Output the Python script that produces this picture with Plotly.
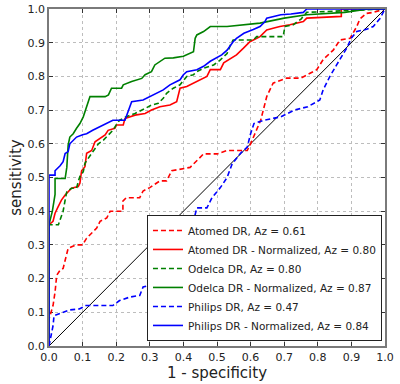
import plotly.graph_objects as go

# ---- data ----
atomed_x = [0, 0, 0.012, 0.018, 0.023, 0.033, 0.042, 0.053, 0.057, 0.08, 0.10, 0.112, 0.122, 0.142,
            0.152, 0.172, 0.182, 0.22, 0.22, 0.23, 0.27, 0.28, 0.30, 0.33, 0.35, 0.365, 0.42, 0.46,
            0.50, 0.53, 0.59, 0.60, 0.63, 0.648, 0.667, 0.707, 0.75, 0.797, 0.816, 0.846, 0.866,
            0.896, 0.916, 0.925, 0.945, 0.965, 1.0]
atomed_y = [0, 0.08, 0.12, 0.16, 0.21, 0.225, 0.23, 0.28, 0.29, 0.30, 0.30, 0.32, 0.33, 0.35,
            0.37, 0.38, 0.40, 0.40, 0.43, 0.44, 0.44, 0.46, 0.47, 0.49, 0.49, 0.52, 0.53, 0.57,
            0.57, 0.58, 0.58, 0.60, 0.67, 0.74, 0.78, 0.795, 0.795, 0.82, 0.85, 0.878, 0.908,
            0.913, 0.948, 0.97, 0.987, 0.99, 1.0]

atomed_n_x = [0, 0, 0.012, 0.018, 0.027, 0.037, 0.048, 0.067, 0.087, 0.092, 0.097, 0.107, 0.112,
              0.127, 0.137, 0.152, 0.167, 0.176, 0.196, 0.201, 0.221, 0.226, 0.256, 0.286, 0.305,
              0.33, 0.36, 0.38, 0.39, 0.41, 0.43, 0.47, 0.48, 0.51, 0.52, 0.54, 0.558, 0.578,
              0.588, 0.598, 0.628, 0.648, 0.667, 0.687, 0.717, 0.757, 0.767, 0.87, 0.87, 1.0]
atomed_n_y = [0, 0.36, 0.37, 0.394, 0.413, 0.433, 0.448, 0.468, 0.473, 0.483, 0.52, 0.532, 0.572,
              0.58, 0.606, 0.616, 0.626, 0.64, 0.646, 0.656, 0.656, 0.675, 0.685, 0.69, 0.70,
              0.71, 0.715, 0.725, 0.765, 0.77, 0.78, 0.80, 0.82, 0.82, 0.84, 0.854, 0.864, 0.883,
              0.893, 0.903, 0.918, 0.938, 0.943, 0.948, 0.953, 0.963, 0.973, 0.978, 1.0, 1.0]

odelca_x = [0, 0, 0.028, 0.037, 0.042, 0.048, 0.053, 0.067, 0.082, 0.087, 0.092, 0.102, 0.107,
            0.112, 0.127, 0.137, 0.147, 0.162, 0.172, 0.182, 0.19, 0.20, 0.21, 0.23, 0.256, 0.286,
            0.305, 0.325, 0.34, 0.35, 0.37, 0.39, 0.41, 0.43, 0.44, 0.46, 0.49, 0.51, 0.53, 0.54,
            0.548, 0.608, 0.618, 0.697, 0.702, 0.727, 0.75, 0.767, 1.0]
odelca_y = [0, 0.36, 0.36, 0.384, 0.40, 0.433, 0.458, 0.468, 0.468, 0.488, 0.503, 0.517, 0.542,
            0.55, 0.572, 0.586, 0.60, 0.611, 0.621, 0.631, 0.64, 0.656, 0.67, 0.68, 0.69, 0.705,
            0.715, 0.72, 0.735, 0.75, 0.765, 0.775, 0.80, 0.805, 0.814, 0.824, 0.834, 0.849,
            0.868, 0.893, 0.908, 0.908, 0.918, 0.918, 0.948, 0.953, 0.97, 0.99, 1.0]

odelca_n_x = [0, 0, 0.01, 0.018, 0.018, 0.048, 0.053, 0.057, 0.062, 0.072, 0.082, 0.092, 0.102,
              0.112, 0.122, 0.167, 0.177, 0.186, 0.216, 0.221, 0.246, 0.276, 0.286, 0.305, 0.315,
              0.345, 0.37, 0.40, 0.43, 0.435, 0.44, 0.46, 0.48, 0.53, 0.628, 0.70, 0.767, 0.88,
              0.95, 1.0]
odelca_n_y = [0, 0.36, 0.40, 0.45, 0.497, 0.497, 0.53, 0.596, 0.62, 0.63, 0.646, 0.66, 0.68,
              0.71, 0.74, 0.74, 0.745, 0.765, 0.765, 0.775, 0.785, 0.794, 0.805, 0.814, 0.834,
              0.854, 0.855, 0.86, 0.873, 0.913, 0.923, 0.933, 0.948, 0.948, 0.958, 0.973, 0.983,
              0.99, 1.0, 1.0]

philips_x = [0, 0.012, 0.015, 0.033, 0.06, 0.09, 0.11, 0.19, 0.21, 0.24, 0.27, 0.28, 0.30, 0.33,
             0.37, 0.40, 0.415, 0.43, 0.44, 0.47, 0.485, 0.51, 0.53, 0.545, 0.57, 0.59, 0.60,
             0.61, 0.64, 0.69, 0.73, 0.77, 0.806, 0.816, 0.836, 0.856, 0.875, 0.886, 0.90, 0.916,
             0.945, 0.965, 0.985, 1.0]
philips_y = [0, 0.06, 0.09, 0.096, 0.107, 0.11, 0.12, 0.12, 0.135, 0.145, 0.15, 0.175, 0.18, 0.19,
             0.23, 0.29, 0.32, 0.37, 0.41, 0.41, 0.44, 0.47, 0.50, 0.54, 0.572, 0.59, 0.63,
             0.66, 0.67, 0.68, 0.70, 0.71, 0.73, 0.76, 0.80, 0.834, 0.864, 0.884, 0.914, 0.933,
             0.94, 0.948, 0.972, 1.0]

philips_n_x = [0, 0, 0.018, 0.018, 0.033, 0.042, 0.048, 0.057, 0.062, 0.072, 0.082, 0.10, 0.112,
               0.13, 0.152, 0.172, 0.19, 0.226, 0.236, 0.246, 0.28, 0.30, 0.32, 0.34, 0.36, 0.39,
               0.40, 0.41, 0.44, 0.46, 0.48, 0.50, 0.514, 0.53, 0.54, 0.548, 0.558, 0.58, 0.608,
               0.628, 0.643, 0.648, 0.69, 0.72, 0.757, 0.767, 1.0]
philips_n_y = [0, 0.507, 0.507, 0.52, 0.535, 0.547, 0.571, 0.577, 0.60, 0.61, 0.62, 0.627, 0.63,
               0.64, 0.651, 0.66, 0.67, 0.67, 0.695, 0.725, 0.73, 0.74, 0.75, 0.76, 0.775, 0.79,
               0.805, 0.814, 0.82, 0.83, 0.845, 0.855, 0.864, 0.878, 0.893, 0.903, 0.913, 0.928,
               0.939, 0.948, 0.963, 0.973, 0.983, 0.985, 0.99, 1.0, 1.0]

chance_x = [0, 1]
chance_y = [0, 1]

series = [
    ("Atomed DR, Az = 0.61", atomed_x, atomed_y, "#ff0000", "dash"),
    ("Atomed DR - Normalized, Az = 0.80", atomed_n_x, atomed_n_y, "#ff0000", "solid"),
    ("Odelca DR, Az = 0.80", odelca_x, odelca_y, "#008000", "dash"),
    ("Odelca DR - Normalized, Az = 0.87", odelca_n_x, odelca_n_y, "#008000", "solid"),
    ("Philips DR, Az = 0.47", philips_x, philips_y, "#0000ff", "dash"),
    ("Philips DR - Normalized, Az = 0.84", philips_n_x, philips_n_y, "#0000ff", "solid"),
]

fig = go.Figure()
fig.add_trace(go.Scatter(x=chance_x, y=chance_y, mode="lines",
                         line=dict(color="black", width=1), showlegend=False,
                         hoverinfo="skip"))
for name, xs, ys, color, dash in series:
    fig.add_trace(go.Scatter(
        x=xs, y=ys, mode="lines", name=name,
        line=dict(color=color, width=1.6, dash="5px,3px" if dash == "dash" else "solid"),
    ))

axis_common = dict(
    range=[0, 1], dtick=0.1, tick0=0, tickformat=".1f",
    showgrid=True, gridcolor="#bdbdbd", griddash="dot", gridwidth=1,
    showline=True, linecolor="#7a7a7a", linewidth=1.5, mirror="allticks",
    ticks="inside", ticklen=4, tickcolor="#333333", tickwidth=1,
    zeroline=False, layer="below traces", automargin=False,
    tickfont=dict(family="DejaVu Sans", size=11, color="#222222"),
)

fig.update_layout(
    width=400, height=384,
    margin=dict(l=49, r=15, t=9, b=38),
    paper_bgcolor="white", plot_bgcolor="white",
    font=dict(family="DejaVu Sans", color="#222222"),
    xaxis=dict(axis_common, title=dict(text="1 - specificity", standoff=2,
                                        font=dict(size=15, family="DejaVu Sans"))),
    yaxis=dict(axis_common, title=dict(text="sensitivity", standoff=2,
                                        font=dict(size=15, family="DejaVu Sans"))),
    legend=dict(
        x=0.991, y=0.015, xanchor="right", yanchor="bottom",
        bgcolor="white", bordercolor="#222222", borderwidth=1,
        font=dict(family="DejaVu Sans", size=10.5, color="#222222"),
        itemwidth=30, tracegroupgap=0,
    ),
    showlegend=True,
)

fig.write_html(
    "out.html",
    config={"displayModeBar": False},
    post_script="document.body.style.margin='0';document.body.style.overflow='hidden';",
)
